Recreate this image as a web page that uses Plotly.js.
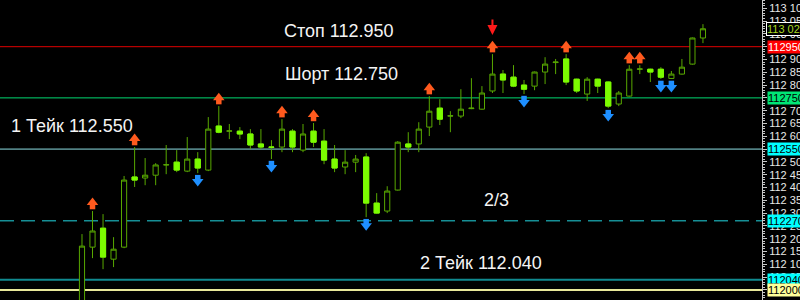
<!DOCTYPE html>
<html><head><meta charset="utf-8">
<script src="https://cdn.plot.ly/plotly-3.0.1.min.js"></script>
<style>html,body{margin:0;padding:0;background:#000;}#chart{width:800px;height:300px;}</style>
</head><body><div id="chart"></div>
<script>
const openP  = [111.900,112.167,112.241,112.120,112.167,112.441,112.437,112.448,112.488,112.499,112.464,112.511,112.468,112.640,112.620,112.620,112.609,112.570,112.558,112.558,112.620,112.546,112.620,112.581,112.511,112.480,112.499,112.519,112.339,112.308,112.390,112.570,112.570,112.636,112.710,112.679,112.679,112.708,112.706,112.777,112.843,112.831,112.800,112.796,112.851,112.888,112.902,112.823,112.765,112.823,112.812,112.726,112.757,112.862,112.862,112.862,112.826,112.843,112.882,112.984];
const highP  = [112.218,112.308,112.296,112.206,112.445,112.558,112.515,112.495,112.566,112.546,112.597,112.538,112.675,112.718,112.648,112.636,112.628,112.628,112.585,112.667,112.628,112.648,112.652,112.628,112.566,112.546,112.527,112.534,112.378,112.405,112.581,112.616,112.655,112.757,112.745,112.698,112.784,112.827,112.796,112.921,112.859,112.878,112.820,112.853,112.909,112.902,112.921,112.825,112.831,112.825,112.814,112.777,112.878,112.878,112.864,112.870,112.855,112.902,112.986,113.038];
const lowP   = [111.880,112.124,112.081,112.089,112.163,112.402,112.409,112.409,112.452,112.460,112.460,112.456,112.464,112.612,112.589,112.589,112.550,112.550,112.511,112.538,112.538,112.538,112.558,112.491,112.460,112.452,112.460,112.284,112.298,112.300,112.388,112.538,112.538,112.601,112.644,112.616,112.671,112.706,112.704,112.769,112.769,112.792,112.765,112.780,112.804,112.843,112.800,112.769,112.738,112.769,112.710,112.718,112.755,112.843,112.812,112.824,112.824,112.841,112.880,112.964];
const closeP = [112.171,112.230,112.128,112.159,112.429,112.429,112.448,112.488,112.489,112.468,112.511,112.476,112.628,112.616,112.621,112.609,112.566,112.558,112.557,112.628,112.558,112.609,112.577,112.507,112.476,112.499,112.511,112.339,112.300,112.386,112.577,112.558,112.628,112.698,112.667,112.680,112.706,112.710,112.769,112.843,112.820,112.796,112.784,112.851,112.882,112.890,112.812,112.777,112.823,112.796,112.718,112.769,112.862,112.863,112.851,112.831,112.843,112.870,112.984,113.020];
const fractalUp   = [1,5,13,19,22,33,39,46,52,53];
const fractalDown = [11,18,27,42,50,55,56];
const signalBar = 39;
const currentPrice = 113.020;

const levelPrices = [112.950, 112.750, 112.550, 112.270, 112.040, 112.000];
const levelLabels = ["Стоп 112.950", "Шорт 112.750", "1 Тейк 112.550", "2/3", "2 Тейк 112.040", ""];

const tickVals = [];
for (let k = 0; k <= 22; k++) tickVals.push(+(112.0 + k * 0.05).toFixed(3));

const idx = openP.map((_, i) => i);
const bodyHigh = openP.map((o, i) => Math.max(o, closeP[i]));
const bodyLow  = openP.map((o, i) => Math.min(o, closeP[i]));

const WICK = '#58a800', LIME = '#7cfc00';
const upCol = '#ff5a1e', dnCol = '#1e8fff';
const offTri = 0.033, offSq = 0.0176;

const traces = [
  {type:'candlestick', x: idx, open: openP, high: highP, low: lowP, close: closeP,
   increasing:{line:{color:WICK, width:1}, fillcolor:'#000000'},
   decreasing:{line:{color:WICK, width:1}, fillcolor:LIME},
   whiskerwidth:0, hoverinfo:'skip', showlegend:false},
  {type:'candlestick', x: idx, open: openP, high: bodyHigh, low: bodyLow, close: closeP,
   increasing:{line:{color:'rgba(0,0,0,0)', width:0}, fillcolor:'rgba(0,0,0,0)'},
   decreasing:{line:{color:LIME, width:1}, fillcolor:LIME},
   whiskerwidth:0, hoverinfo:'skip', showlegend:false},
  {type:'scatter', mode:'markers', x: fractalUp, y: fractalUp.map(i => highP[i] + offTri),
   marker:{symbol:'triangle-up', size:10, color:upCol}, hoverinfo:'skip', showlegend:false},
  {type:'scatter', mode:'markers', x: fractalUp, y: fractalUp.map(i => highP[i] + offSq),
   marker:{symbol:'square', size:5.5, color:upCol}, hoverinfo:'skip', showlegend:false},
  {type:'scatter', mode:'markers', x: fractalDown, y: fractalDown.map(i => lowP[i] - offTri),
   marker:{symbol:'triangle-down', size:10, color:dnCol}, hoverinfo:'skip', showlegend:false},
  {type:'scatter', mode:'markers', x: fractalDown, y: fractalDown.map(i => lowP[i] - offSq),
   marker:{symbol:'square', size:5.5, color:dnCol}, hoverinfo:'skip', showlegend:false}
];

const lineStyles = [
  {color:'#e00000', width:1},
  {color:'#00d870', width:1},
  {color:'#8edfe4', width:1},
  {color:'#168f96', width:1.5, dash:'14px,7px'},
  {color:'#108a90', width:2},
  {color:'#e8e89a', width:2}
];
const shapes = levelPrices.map((p, i) => ({type:'line', xref:'paper', yref:'y', x0:0, x1:1, y0:p, y1:p, line:lineStyles[i], layer:'below'}));

const FONT = '"Liberation Sans", Arial, sans-serif';
const textPos = [[282, 31], [283, 74], [9, 126], [482, 200], [418, 263]];
const annotations = [];
textPos.forEach((pp, i) => {
  annotations.push({xref:'paper', yref:'paper', x: pp[0] / 762, y: 1 - pp[1] / 300, xanchor:'left', yanchor:'middle',
    text: levelLabels[i], showarrow:false, font:{family:FONT, size:18, color:'#f4f4f4'}});
});
const boxStyles = [
  {bg:'#ff0000', fc:'#ffffff'},
  {bg:'#00e676', fc:'#000000'},
  {bg:'#00ffff', fc:'#000000'},
  {bg:'#00ffff', fc:'#000000'},
  {bg:'#00ffff', fc:'#000000'},
  {bg:'#ffff99', fc:'#000000'}
];
levelPrices.forEach((p, i) => {
  annotations.push({xref:'paper', yref:'y', x:1, y:p, xanchor:'left', yanchor:'middle', xshift:5,
    text: p.toFixed(3).replace('.', ''), showarrow:false, bgcolor:boxStyles[i].bg, borderpad:0,
    font:{family:FONT, size:11, color:boxStyles[i].fc}});
});
annotations.push({xref:'paper', yref:'y', x:1, y:currentPrice, xanchor:'left', yanchor:'middle', xshift:4,
  text: currentPrice.toFixed(3).replace('.', ' '), showarrow:false, bgcolor:'#000000', bordercolor:'#ffffff', borderwidth:1, borderpad:0,
  font:{family:FONT, size:11, color:'#a8d820'}});
annotations.push({x: signalBar, y: highP[signalBar] + 0.075, xref:'x', yref:'y', text:'', showarrow:true,
  ax:0, ay:-17, arrowhead:2, arrowsize:1, arrowwidth:2, arrowcolor:'#ff1a1a'});

const layout = {
  width:800, height:300,
  margin:{l:0, r:38, t:0, b:0, pad:0},
  paper_bgcolor:'#000000', plot_bgcolor:'#000000',
  showlegend:false,
  xaxis:{range:[-7.79, 64.61], visible:false, rangeslider:{visible:false}, fixedrange:true},
  yaxis:{side:'right', range:[111.9605, 113.1324], showgrid:false, zeroline:false,
    tickvals: tickVals, ticktext: tickVals.map(v => v.toFixed(3).replace('.', ' ')),
    ticks:'outside', ticklen:4, tickcolor:'#c8c8c8', tickwidth:1,
    showline:true, linecolor:'#c8c8c8', linewidth:1,
    minor:{dtick:0.01, ticklen:2, tickcolor:'#c8c8c8', ticks:'outside'},
    tickfont:{family:FONT, size:11, color:'#e8e8e8'}, fixedrange:true},
  shapes: shapes,
  annotations: annotations
};

Plotly.newPlot('chart', traces, layout, {staticPlot:true, displayModeBar:false});
</script>
</body></html>
